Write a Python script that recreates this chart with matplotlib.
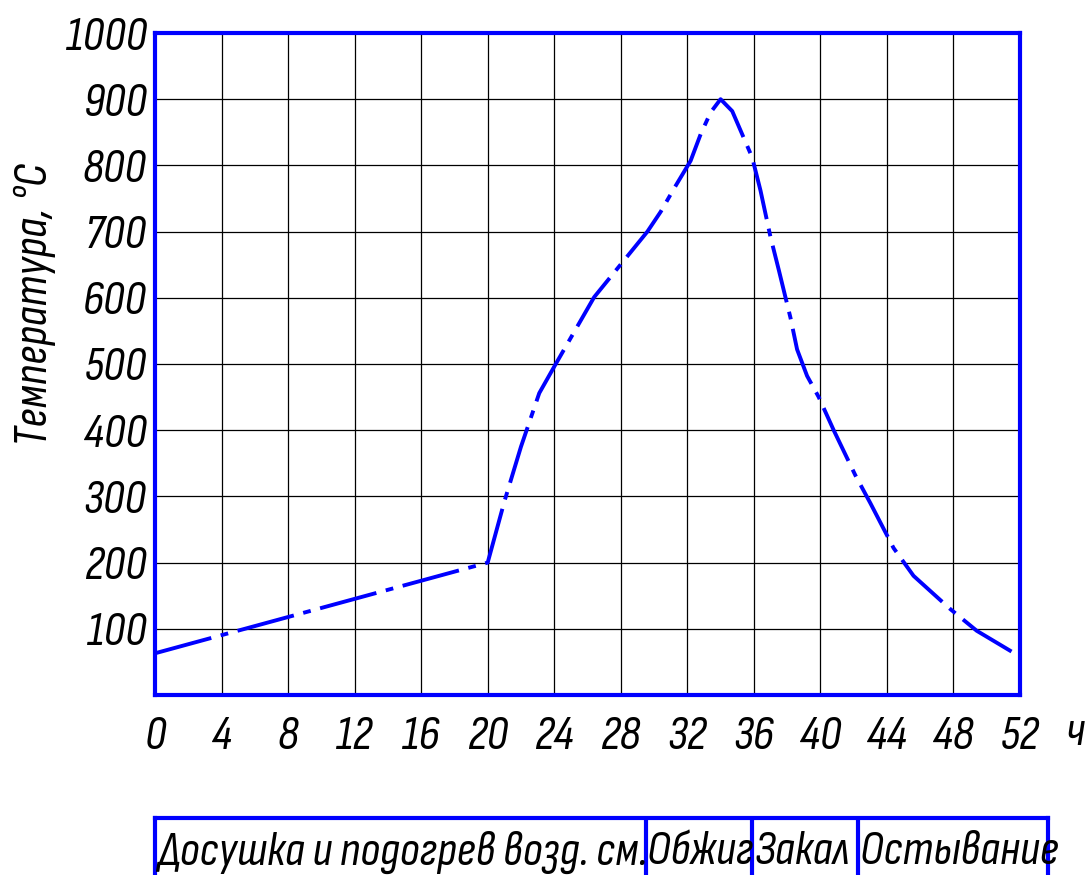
import numpy as np
import matplotlib.pyplot as plt

plt.rcParams['font.family'] = ['Sofia Sans Condensed', 'Sofia Sans Extra Condensed', 'DejaVu Sans']
plt.rcParams['font.style'] = 'italic'

# temperature curve, hours vs deg C
hours = [0, 20, 21, 22, 23.1, 24, 26.4, 29.6, 30.4, 31.2, 32.2, 32.8, 33.4, 34.0,
         34.7, 35.3, 35.9, 36.4, 37.0, 37.5, 38.2, 38.6, 39.2, 39.9, 40.8, 42.1,
         43.0, 44.4, 45.6, 47.8, 49.4, 52]
temp = [63, 200, 292, 375, 456, 496, 601, 700, 730, 765, 807, 847, 880, 900,
        882, 847, 812, 762, 692, 642, 570, 522, 482, 450, 400, 332,
        290, 222, 180, 130, 97, 58]

xticks = list(range(0, 53, 4))
yticks = list(range(100, 1001, 100))

stages = ['Досушка и подогрев возд. см.', 'Обжиг', 'Закал', 'Остывание']
stage_edges = [0, 29.5, 35.9, 42.3, 53.7]

blue = '#0000ff'
fs = 35

fig = plt.figure(figsize=(10.89, 8.75), dpi=100)
ax = fig.add_axes([155/1089, 1-695/875, 865/1089, 662/875])

ax.plot(hours, temp, color=blue, lw=2.8, linestyle=(0, (15, 2.5, 2, 2.5)), zorder=3)

ax.set_xlim(0, 52)
ax.set_ylim(0, 1000)
ax.set_xticks(xticks)
ax.set_yticks(yticks)
ax.set_yticks(range(0, 1001, 100), minor=True)
ax.grid(True, which='both', color='black', lw=0.9)
ax.tick_params(which='both', length=0, labelsize=fs)
ax.tick_params(axis='x', pad=15)
ax.tick_params(axis='y', pad=6)
for s in ax.spines.values():
    s.set_color(blue)
    s.set_linewidth(3)
    s.set_zorder(4)

ax.text(1.0636, -0.0574, 'ч', transform=ax.transAxes, fontsize=fs,
        ha='center', va='center')
fig.text(35/1089, 1-305/875, 'Температура, °С', rotation=90, fontsize=fs,
         ha='center', va='center')

# stage table under the chart
tb = fig.add_axes([155/1089, 1-901/875, 893/1089, 83/875])
tb.set_xlim(stage_edges[0], stage_edges[-1])
tb.set_ylim(0, 1)
tb.set_xticks([])
tb.set_yticks([])
for k in ['top', 'left', 'right']:
    tb.spines[k].set_color(blue)
    tb.spines[k].set_linewidth(3)
tb.spines['bottom'].set_visible(False)
for e in stage_edges[1:-1]:
    tb.axvline(e, color=blue, lw=3)
for name, e in zip(stages, stage_edges[:-1]):
    tb.text(e + 0.1, 0.59, name, fontsize=fs, ha='left', va='center')

fig.savefig('out.png', dpi=100)
